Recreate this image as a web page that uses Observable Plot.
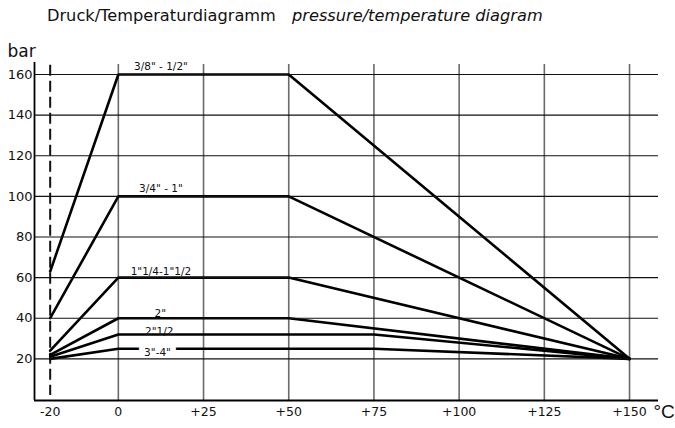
<!DOCTYPE html>
<html>
<head>
<meta charset="utf-8">
<script src="https://cdn.jsdelivr.net/npm/d3@7"></script>
<script src="https://cdn.jsdelivr.net/npm/@observablehq/plot@0.6"></script>
<style>
  body { margin: 0; background: #fff; }
  #wrap { position: relative; width: 675px; height: 428px; font-family: "DejaVu Sans", sans-serif; }
  #title { position: relative; height: 30px; }
  #title span { position: absolute; top: 6px; font-size: 16.2px; color: #111; white-space: nowrap; }
  #chart svg { display: block; }
</style>
</head>
<body>
<div id="wrap">
  <div id="title">
    <span style="left:47px">Druck/Temperaturdiagramm</span>
    <span style="left:292px; font-style:italic">pressure/temperature diagram</span>
  </div>
  <div id="chart"></div>
</div>
<script>
// ---- data ----
const seriesNames = ['3/8" - 1/2"', '3/4" - 1"', '1"1/4-1"1/2', '2"', '2"1/2', '3"-4"'];
const tempPoints = [
  [-20, 0, 50, 150],
  [-20, 0, 50, 150],
  [-20, 0, 50, 150],
  [-20, 0, 50, 150],
  [-20, 0, 75, 150],
  [-20, 0, 75, 150]
];
const pressPoints = [
  [63, 160, 160, 20],
  [40, 100, 100, 20],
  [24, 60, 60, 20],
  [22, 40, 40, 20],
  [21, 32, 32, 20],
  [20, 25, 25, 20]
];
const yTicks = [20, 40, 60, 80, 100, 120, 140, 160];
const xTicks = [-20, 0, 25, 50, 75, 100, 125, 150];
const xTickLabels = ["-20", "0", "+25", "+50", "+75", "+100", "+125", "+150"];

// ---- build table ----
const rows = [];
seriesNames.forEach((name, i) => {
  tempPoints[i].forEach((t, j) => rows.push({ series: name, t, p: pressPoints[i][j] }));
});

// label placement (layout, not data)
const labelLayout = [
  { t: 12.5, dy: -8 },
  { t: 12.5, dy: -8 },
  { t: 12.5, dy: -6 },
  { t: 12.3, dy: -5 },
  { t: 12.0, dy: -3 },
  { t: 11.5, dy: 4 }
];

const xDomain = [-24.6, 158.5];
const yDomain = [-0.5, 165.9];
const font = "DejaVu Sans";

const labelMarks = seriesNames.map((name, i) => {
  const plateau = pressPoints[i][1];
  const opts = {
    x: d => d.t, y: d => d.p, text: d => d.series,
    dy: labelLayout[i].dy, fontSize: 10.5, fill: "#111", fontFamily: font, textAnchor: "middle"
  };
  if (i === 5) { opts.stroke = "white"; opts.strokeWidth = 12; }
  return Plot.text([{ series: name, t: labelLayout[i].t, p: plateau }], opts);
});

const plot = Plot.plot({
  width: 675,
  height: 398,
  marginLeft: 34,
  marginRight: 17,
  marginTop: 32,
  marginBottom: 28,
  style: { fontFamily: font, background: "white", color: "#111", overflow: "visible" },
  x: { domain: xDomain },
  y: { domain: yDomain },
  marks: [
    // vertical grid
    Plot.ruleX(xTicks.filter(d => d !== -20), { y1: 164.9, y2: yDomain[0], stroke: "#6a6a6a", strokeWidth: 1.6 }),
    // dashed -20 line
    Plot.ruleX([-20], { y1: 164.5, y2: 2, stroke: "#111", strokeWidth: 2, strokeDasharray: "11,5" }),
    // series
    Plot.line(rows, { x: "t", y: "p", z: "series", stroke: "#000", strokeWidth: 2.6, strokeLinejoin: "miter" }),
    ...labelMarks,
    // horizontal grid (drawn above so label halo does not cut it)
    Plot.ruleY(yTicks, { stroke: "#111", strokeWidth: 1.2 }),
    // axis lines
    Plot.ruleX([xDomain[0]], { stroke: "#000", strokeWidth: 1.8 }),
    Plot.ruleY([yDomain[0]], { stroke: "#000", strokeWidth: 1.8 }),
    Plot.axisY({ ticks: yTicks, tickSize: 0, tickPadding: 2, fontSize: 13, label: null, fill: "#111" }),
    Plot.axisX({ ticks: xTicks, tickFormat: d => xTickLabels[xTicks.indexOf(d)], tickSize: 0, tickPadding: 7, fontSize: 12.5, label: null, fill: "#111" }),
    // unit labels
    Plot.text(["bar"], { frameAnchor: "top-left", dx: -27, dy: -18, text: d => d, fontSize: 17, textAnchor: "start", fill: "#111", fontFamily: font }),
    Plot.text(["°C"], { frameAnchor: "bottom-right", dx: -5, dy: 17, text: d => d, fontSize: 19, textAnchor: "start", fill: "#111", fontFamily: "Liberation Sans" })
  ]
});
document.getElementById("chart").appendChild(plot);
</script>
</body>
</html>
